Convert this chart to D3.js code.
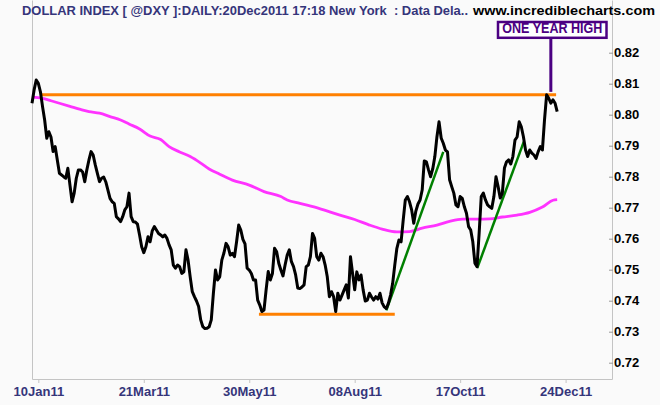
<!DOCTYPE html>
<html>
<head>
<meta charset="utf-8">
<script src="https://cdn.jsdelivr.net/npm/d3@7"></script>
<style>
  body { margin: 0; background: #fafafa; }
  svg { display: block; font-family: "Liberation Sans", Arial, sans-serif; }
</style>
</head>
<body>
<div id="chart"></div>
<script>
// Dollar index, daily close 2011 : [trading day, value]
const close = [
  [0,0.8037],[1,0.8080],[2,0.8112],[3,0.8101],[4,0.8074],[5,0.8026],[6,0.7983],[7,0.7924],
  [8,0.7945],[9,0.7928],[10,0.7881],[11,0.7897],[12,0.7854],[13,0.7811],[15,0.7800],[16,0.7795],
  [17,0.7827],[18,0.7773],[19,0.7719],[20,0.7747],[21,0.7795],[22,0.7822],[23,0.7822],[24,0.7815],
  [25,0.7784],[26,0.7822],[27,0.7854],[28,0.7881],[29,0.7870],[30,0.7838],[31,0.7811],[32,0.7784],
  [33,0.7795],[34,0.7799],[35,0.7783],[36,0.7757],[37,0.7730],[38,0.7719],[39,0.7714],[40,0.7671],
  [41,0.7664],[42,0.7655],[43,0.7671],[44,0.7693],[45,0.7703],[46,0.7747],[47,0.7671],[48,0.7655],
  [49,0.7654],[50,0.7647],[51,0.7612],[52,0.7574],[53,0.7555],[54,0.7574],[55,0.7606],[56,0.7590],
  [57,0.7625],[58,0.7639],[59,0.7628],[60,0.7617],[61,0.7612],[62,0.7606],[63,0.7612],[64,0.7601],
  [65,0.7580],[66,0.7564],[67,0.7515],[68,0.7505],[69,0.7515],[70,0.7510],[71,0.7488],[72,0.7493],
  [73,0.7564],[74,0.7531],[75,0.7477],[76,0.7429],[77,0.7413],[78,0.7399],[79,0.7381],[80,0.7338],
  [81,0.7316],[82,0.7310],[83,0.7311],[84,0.7316],[85,0.7338],[86,0.7424],[87,0.7499],[88,0.7467],
  [89,0.7477],[90,0.7531],[91,0.7554],[92,0.7585],[93,0.7574],[94,0.7547],[95,0.7553],[96,0.7542],
  [97,0.7590],[98,0.7644],[99,0.7628],[100,0.7598],[101,0.7583],[102,0.7505],[103,0.7499],[104,0.7488],
  [105,0.7467],[106,0.7467],[107,0.7402],[108,0.7386],[109,0.7365],[110,0.7370],[111,0.7435],[112,0.7494],
  [113,0.7467],[114,0.7488],[115,0.7569],[116,0.7558],[117,0.7521],[118,0.7499],[119,0.7480],[120,0.7515],
  [121,0.7547],[122,0.7564],[123,0.7526],[124,0.7510],[125,0.7483],[126,0.7441],[127,0.7439],[128,0.7444],
  [129,0.7451],[130,0.7510],[131,0.7515],[132,0.7542],[133,0.7617],[134,0.7601],[135,0.7542],[136,0.7531],
  [137,0.7553],[138,0.7542],[139,0.7515],[140,0.7477],[141,0.7413],[142,0.7429],[143,0.7413],[144,0.7365],
  [145,0.7424],[146,0.7402],[147,0.7418],[148,0.7435],[149,0.7451],[150,0.7409],[151,0.7542],[152,0.7488],
  [153,0.7435],[154,0.7493],[155,0.7467],[156,0.7483],[157,0.7435],[158,0.7399],[159,0.7402],[160,0.7424],
  [161,0.7412],[162,0.7402],[163,0.7413],[164,0.7405],[165,0.7424],[166,0.7393],[167,0.7380],[168,0.7375],
  [169,0.7392],[170,0.7418],[171,0.7456],[172,0.7515],[173,0.7569],[174,0.7596],[175,0.7590],[176,0.7660],
  [177,0.7725],[178,0.7736],[179,0.7719],[180,0.7693],[181,0.7650],[182,0.7689],[183,0.7712],[184,0.7725],
  [185,0.7757],[186,0.7851],[187,0.7848],[188,0.7822],[189,0.7800],[190,0.7825],[191,0.7865],[192,0.7929],
  [193,0.7977],[194,0.7925],[195,0.7908],[196,0.7886],[197,0.7880],[198,0.7790],[199,0.7768],[200,0.7747],
  [201,0.7709],[202,0.7703],[203,0.7736],[204,0.7730],[205,0.7703],[206,0.7682],[207,0.7639],[208,0.7628],
  [209,0.7590],[210,0.7521],[211,0.7510],[212,0.7617],[213,0.7736],[214,0.7747],[215,0.7725],[216,0.7709],
  [217,0.7703],[218,0.7698],[219,0.7736],[220,0.7800],[221,0.7768],[222,0.7731],[223,0.7747],[224,0.7828],
  [225,0.7848],[226,0.7854],[227,0.7841],[228,0.7865],[229,0.7918],[230,0.7928],[231,0.7977],[232,0.7961],
  [233,0.7929],[234,0.7886],[235,0.7865],[236,0.7886],[237,0.7876],[238,0.7870],[239,0.7859],[240,0.7881],
  [241,0.7897],[242,0.7886],[243,0.7983],[244,0.8064],[245,0.8053],[246,0.8037],[247,0.8048],[248,0.8037],
  [249,0.8010]
];

// moving average (magenta)
const movingAvg = [
  [0,0.8057],[5,0.8053],[9,0.8045],[13,0.8037],[18,0.8027],[23,0.8017],[27,0.8010],[32,0.8005],
  [37,0.7994],[42,0.7983],[46,0.7970],[51,0.7954],[56,0.7931],[61,0.7920],[65,0.7897],[70,0.7880],
  [75,0.7865],[80,0.7844],[84,0.7825],[89,0.7808],[95,0.7789],[103,0.7773],[110,0.7752],[118,0.7736],
  [121,0.7725],[127,0.7714],[136,0.7698],[146,0.7676],[153,0.7662],[160,0.7644],[166,0.7631],[173,0.7622],
  [179,0.7623],[185,0.7634],[192,0.7644],[198,0.7656],[204,0.7663],[211,0.7663],[217,0.7664],[223,0.7670],
  [230,0.7676],[236,0.7685],[242,0.7702],[247,0.7724],[249,0.7726]
];

const resistance = [[4.5, 0.8064], [248.5, 0.8064]];
const support = [[107.6, 0.7356], [172, 0.7356]];
const trendUp1 = [[168, 0.7369], [195, 0.7880]];
const trendUp2 = [[211.1, 0.7505], [233.2, 0.7913]];

const dayTicks = [3, 53, 103, 153, 203, 253];
const dayLabels = ['10Jan11', '21Mar11', '30May11', '08Aug11', '17Oct11', '24Dec11'];
const valueTicks = [0.72, 0.73, 0.74, 0.75, 0.76, 0.77, 0.78, 0.79, 0.80, 0.81, 0.82];

const highLabel = 'ONE YEAR HIGH';
const highDay = 246;

const width = 660, height = 405;
const plot = {left: 32, right: 612, top: 0, bottom: 379};

var x = d3.scaleLinear()
        .domain([0, 275])
        .range([plot.left, plot.right])

var y = d3.scaleLinear()
        .domain([0.72, 0.82])
        .range([362.7, 52.7])

var line = d3.line()
          .x(d => x(d[0]))
          .y(d => y(d[1]))

const svg = d3.select('#chart')
  .append('svg')
    .attr('width', width)
    .attr('height', height)
    .attr('viewBox', [0, 0, width, height]);

svg.append('rect')
    .attr('width', width)
    .attr('height', height)
    .attr('fill', '#fafafa');

// frame
svg.append('path')
    .attr('d', `M${plot.left},${plot.top}V${plot.bottom}H${plot.right}V${plot.top}`)
    .attr('fill', 'none')
    .attr('stroke', '#c4c4c4')
    .attr('stroke-width', 1)
    .attr('transform', 'translate(0.5,0.5)');

// axes
svg.append('g')
    .attr('transform', 'translate(0,' + plot.bottom + ')')
    .call(d3.axisBottom(x)
      .tickValues(dayTicks)
      .tickFormat((d, i) => dayLabels[i])
      .tickSize(4)
      .tickPadding(4))
    .call(g => g.select('.domain').remove())
    .call(g => g.selectAll('.tick line').attr('stroke', '#c4c4c4'))
    .call(g => g.selectAll('.tick text')
      .attr('fill', '#35357a')
      .style('font', 'bold 13px "Liberation Sans", Arial, sans-serif'));

svg.append('g')
    .attr('transform', 'translate(' + plot.right + ',0)')
    .call(d3.axisRight(y)
      .tickValues(valueTicks)
      .tickFormat(d3.format('.2f'))
      .tickSize(0)
      .tickPadding(2))
    .call(g => g.select('.domain').remove())
    .call(g => g.selectAll('.tick line').attr('x1', -3).attr('x2', 1).attr('stroke', '#999'))
    .call(g => g.selectAll('.tick text')
      .attr('fill', '#000')
      .style('font', 'bold 13px "Liberation Sans", Arial, sans-serif'));

// moving average
svg.append('path')
    .datum(movingAvg)
    .attr('fill', 'none')
    .attr('stroke', '#ff33ff')
    .attr('stroke-width', 2.8)
    .attr('d', line.curve(d3.curveMonotoneX));

line.curve(d3.curveLinear);

// support / resistance
svg.selectAll('.level')
  .data([resistance, support])
  .join('path')
    .attr('class', 'level')
    .attr('fill', 'none')
    .attr('stroke', '#ff8000')
    .attr('stroke-width', 3)
    .attr('d', line);

svg.selectAll('.trend')
  .data([trendUp1, trendUp2])
  .join('path')
    .attr('class', 'trend')
    .attr('fill', 'none')
    .attr('stroke', '#008000')
    .attr('stroke-width', 2.5)
    .attr('d', line);

// price
svg.append('path')
    .datum(close)
    .attr('fill', 'none')
    .attr('stroke', '#000')
    .attr('stroke-width', 3)
    .attr('stroke-linejoin', 'round')
    .attr('d', line);

// one year high note
const note = svg.append('g');

note.append('line')
    .attr('x1', x(highDay))
    .attr('x2', x(highDay))
    .attr('y1', 38)
    .attr('y2', y(resistance[0][1]) - 3)
    .attr('stroke', '#4b0082')
    .attr('stroke-width', 3);

note.append('rect')
    .attr('x', 498)
    .attr('y', 22)
    .attr('width', 108.5)
    .attr('height', 15.8)
    .attr('fill', '#fff')
    .attr('stroke', '#4b0082')
    .attr('stroke-width', 2.5);

note.append('text')
    .attr('x', 552.3)
    .attr('y', 33)
    .attr('text-anchor', 'middle')
    .attr('textLength', 100)
    .attr('lengthAdjust', 'spacingAndGlyphs')
    .attr('fill', '#4b0082')
    .style('font', 'bold 14px "Liberation Sans", Arial, sans-serif')
    .text(highLabel);

// title
svg.append('text')
    .attr('x', 22)
    .attr('y', 15)
    .attr('textLength', 446)
    .attr('lengthAdjust', 'spacingAndGlyphs')
    .attr('fill', '#35357a')
    .style('white-space', 'pre')
    .style('font', 'bold 13px "Liberation Sans", Arial, sans-serif')
    .text('DOLLAR INDEX [ @DXY ]:DAILY:20Dec2011 17:18 New York  : Data Dela..');

svg.append('text')
    .attr('x', 473)
    .attr('y', 15)
    .attr('textLength', 182)
    .attr('lengthAdjust', 'spacingAndGlyphs')
    .attr('fill', '#000')
    .style('font', 'bold 13px "Liberation Sans", Arial, sans-serif')
    .text('www.incrediblecharts.com');
</script>
</body>
</html>
